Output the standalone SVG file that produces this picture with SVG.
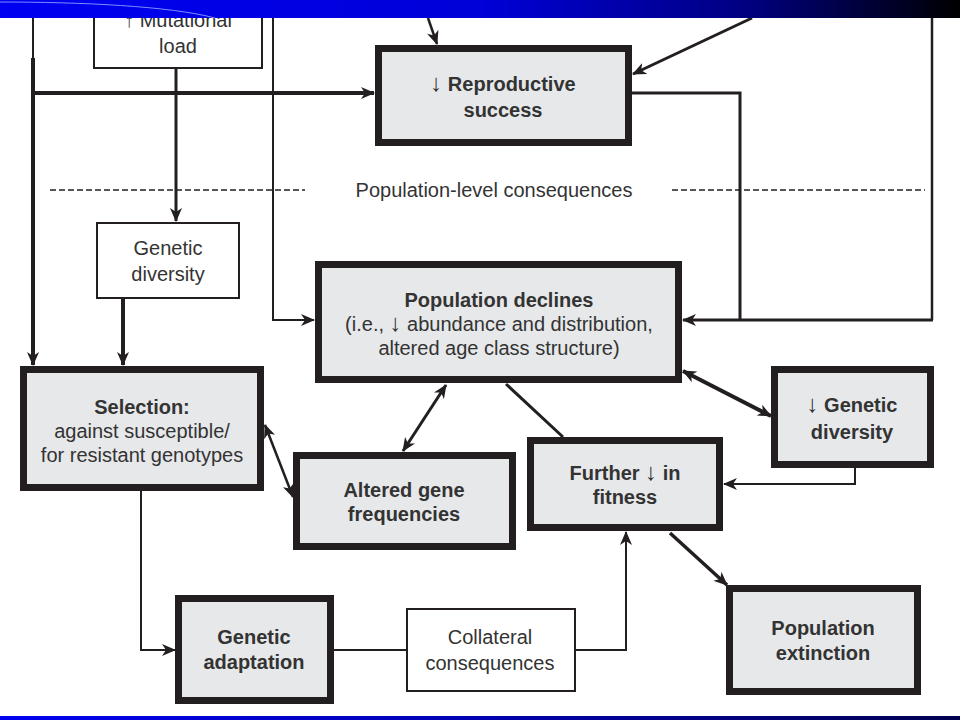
<svg xmlns="http://www.w3.org/2000/svg" width="960" height="720" viewBox="0 0 960 720">
<defs>
<linearGradient id="topbar" x1="0" y1="0" x2="1" y2="0">
<stop offset="0" stop-color="#0000f2"/>
<stop offset="0.5" stop-color="#0000d8"/>
<stop offset="0.78" stop-color="#000080"/>
<stop offset="1" stop-color="#000000"/>
</linearGradient>
<linearGradient id="botbar" x1="0" y1="0" x2="1" y2="0">
<stop offset="0" stop-color="#0000f0"/>
<stop offset="0.5" stop-color="#0000b0"/>
<stop offset="1" stop-color="#000050"/>
</linearGradient>
<marker id="ah" viewBox="0 0 14 12" markerWidth="14" markerHeight="12" refX="13" refY="6" orient="auto-start-reverse" markerUnits="userSpaceOnUse">
<path d="M0,0 L14,6 L0,12 L4,6 z" fill="#231f20"/>
</marker>
</defs>
<style>
.thick{fill:#e7e8ea;stroke:#231f20;stroke-width:7}
.thin{fill:#ffffff;stroke:#231f20;stroke-width:2}
text{font-family:"Liberation Sans",Arial,sans-serif;font-size:20px;fill:#333333;text-anchor:middle}
.b{font-weight:bold}
.n{font-weight:normal;font-size:24px}
.c{fill:none;stroke:#231f20;stroke-linejoin:miter}
</style>
<rect x="0" y="0" width="960" height="720" fill="#ffffff"/>

<g id="connectors">
<path class="c" d="M33,18 V58" stroke-width="2"/>
<path class="c" d="M33,58 V365" stroke-width="4" marker-end="url(#ah)"/>
<path class="c" d="M33,93 H374" stroke-width="4" marker-end="url(#ah)"/>
<path class="c" d="M176,68 V221" stroke-width="3" marker-end="url(#ah)"/>
<path class="c" d="M273,18 V320 H314" stroke-width="2" marker-end="url(#ah)"/>
<path class="c" d="M428,18 L437,44" stroke-width="2.5" marker-end="url(#ah)"/>
<path class="c" d="M752,18 L633,74" stroke-width="3" marker-end="url(#ah)"/>
<path class="c" d="M632,93 H740 V320" stroke-width="3"/>
<path class="c" d="M932,18 V320" stroke-width="2.5"/>
<path class="c" d="M933,320 H683" stroke-width="3" marker-end="url(#ah)"/>
<path class="c" d="M50,190 H305 M672,190 H925" stroke-width="1.5" stroke-dasharray="6,3"/>
<path class="c" d="M123,299 V365" stroke-width="4" marker-end="url(#ah)"/>
<path class="c" d="M446,385 L403,451" stroke-width="3" marker-start="url(#ah)" marker-end="url(#ah)"/>
<path class="c" d="M506,384 L563,437" stroke-width="3"/>
<path class="c" d="M683,371 L771,416" stroke-width="4" marker-start="url(#ah)" marker-end="url(#ah)"/>
<path class="c" d="M855,468 V484 H724" stroke-width="2" marker-end="url(#ah)"/>
<path class="c" d="M265,425 L293,497" stroke-width="2.5" marker-start="url(#ah)" marker-end="url(#ah)"/>
<path class="c" d="M141,491 V650 H175" stroke-width="2" marker-end="url(#ah)"/>
<path class="c" d="M334,650 H406" stroke-width="2"/>
<path class="c" d="M576,650 H626 V532" stroke-width="2" marker-end="url(#ah)"/>
<path class="c" d="M670,533 L727,585" stroke-width="3.5" marker-end="url(#ah)"/>
</g>

<g id="mutational-load">
<rect class="thin" x="94" y="-20" width="168" height="88"/>
<text x="178" y="27">↑ Mutational</text>
<text x="178" y="53">load</text>
</g>

<g id="reproductive-success">
<rect class="thick" x="378.5" y="48.5" width="250" height="94"/>
<text class="b" x="503" y="91"><tspan class="n">↓</tspan> Reproductive</text>
<text class="b" x="503" y="117">success</text>
</g>

<g id="population-level-label">
<text x="494" y="197">Population-level consequences</text>
</g>

<g id="genetic-diversity">
<rect class="thin" x="97" y="223" width="142" height="75"/>
<text x="168" y="255">Genetic</text>
<text x="168" y="281">diversity</text>
</g>

<g id="population-declines">
<rect class="thick" x="318.5" y="264.5" width="360" height="115"/>
<text class="b" x="499" y="307">Population declines</text>
<text x="499" y="331">(i.e.,  <tspan class="n">↓</tspan> abundance and distribution,</text>
<text x="499" y="355">altered age class structure)</text>
</g>

<g id="selection">
<rect class="thick" x="23.5" y="369.5" width="237" height="118"/>
<text class="b" x="142" y="414">Selection:</text>
<text x="142" y="438">against susceptible/</text>
<text x="142" y="462">for resistant genotypes</text>
</g>

<g id="altered-gene-frequencies">
<rect class="thick" x="296.5" y="455.5" width="216" height="91"/>
<text class="b" x="404" y="497">Altered gene</text>
<text class="b" x="404" y="521">frequencies</text>
</g>

<g id="further-fitness">
<rect class="thick" x="530.5" y="440.5" width="189" height="87"/>
<text class="b" x="625" y="480">Further <tspan class="n">↓</tspan> in</text>
<text class="b" x="625" y="504">fitness</text>
</g>

<g id="reduced-genetic-diversity">
<rect class="thick" x="774.5" y="369.5" width="156" height="95"/>
<text class="b" x="852" y="412"><tspan class="n">↓</tspan> Genetic</text>
<text class="b" x="852" y="439">diversity</text>
</g>

<g id="genetic-adaptation">
<rect class="thick" x="178.5" y="598.5" width="152" height="102"/>
<text class="b" x="254" y="644">Genetic</text>
<text class="b" x="254" y="669">adaptation</text>
</g>

<g id="collateral-consequences">
<rect class="thin" x="407" y="609" width="168" height="82"/>
<text x="490" y="644">Collateral</text>
<text x="490" y="670">consequences</text>
</g>

<g id="population-extinction">
<rect class="thick" x="729.5" y="588.5" width="188" height="103"/>
<text class="b" x="823" y="635">Population</text>
<text class="b" x="823" y="660">extinction</text>
</g>

<rect x="0" y="0" width="960" height="18" fill="url(#topbar)"/>
<path d="M0,2 C80,2 170,6 215,18" fill="none" stroke="#7f8cff" stroke-width="1"/>
<rect x="0" y="716" width="960" height="4" fill="url(#botbar)"/>
</svg>
